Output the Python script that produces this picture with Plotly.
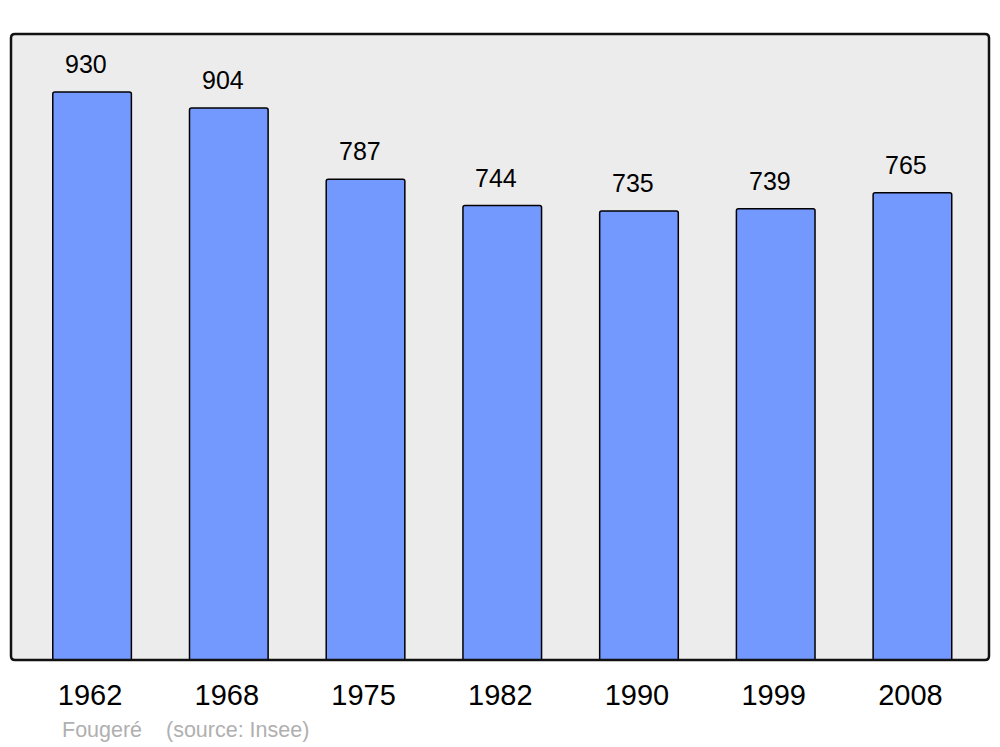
import plotly.graph_objects as go

years = ["1962", "1968", "1975", "1982", "1990", "1999", "2008"]
population = [930, 904, 787, 744, 735, 739, 765]
source_text = "Fougeré    (source: Insee)"

W, H = 1000, 747
L, R, T, B = 11, 11, 34, 87
PW, PH = W - L - R, H - T - B

fig = go.Figure()
fig.add_trace(go.Bar(
    x=list(range(len(years))), y=population,
    width=0.575,
    marker=dict(color="#7399ff", line=dict(color="#000000", width=1.5), cornerradius=2),
    hoverinfo="skip",
))

for i, v in enumerate(population):
    fig.add_annotation(x=i, y=v, text=str(v), showarrow=False, xref="x", yref="y",
                       yanchor="bottom", yshift=12, xshift=-6,
                       font=dict(family="Liberation Sans, Arial", size=25, color="#000"))

fig.add_annotation(x=(60 - L) / PW, y=-(730 - (H - B)) / PH,
                   xref="paper", yref="paper", text=source_text, showarrow=False,
                   xanchor="left", yanchor="middle",
                   font=dict(family="Liberation Sans, Arial", size=21.5, color="#b0b0b0"))

# rounded frame
rx, ry = 4 / PW, 4 / PH
path = (f"M {rx},0 L {1-rx},0 Q 1,0 1,{ry} L 1,{1-ry} Q 1,1 {1-rx},1 "
        f"L {rx},1 Q 0,1 0,{1-ry} L 0,{ry} Q 0,0 {rx},0 Z")
fig.add_shape(type="path", xref="paper", yref="paper", path=path,
              line=dict(color="#111111", width=2.5), layer="above")

fig.update_layout(
    width=W, height=H,
    margin=dict(l=L, r=R, t=T, b=B),
    paper_bgcolor="#ffffff", plot_bgcolor="#ececec",
    showlegend=False,
    xaxis=dict(range=[-0.593, 6.56], tickmode="array", tickvals=list(range(len(years))),
               ticktext=years, showgrid=False, zeroline=False, ticks="",
               tickfont=dict(family="Liberation Sans, Arial", size=29, color="#000"),
               ticklabelstandoff=15, ticklabelshift=-2, fixedrange=True),
    yaxis=dict(range=[0, 1025], showgrid=False, zeroline=False, showticklabels=False,
               ticks="", fixedrange=True),
)

fig.write_html("out.html", config={"displayModeBar": False},
               post_script="document.body.style.margin='0';document.body.style.padding='0';")
